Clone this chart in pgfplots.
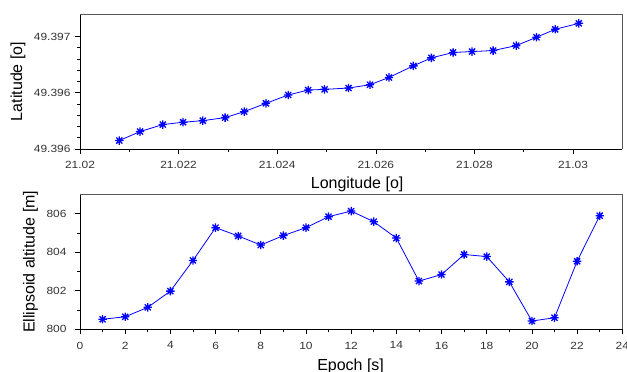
\documentclass[border=0pt]{standalone}
\usepackage{pgfplots}
\pgfplotsset{compat=1.18}
\usepackage{pgfplotstable}
\usepackage{fontspec}
\setmainfont{Liberation Sans}
\newfontfamily\tickfont[FakeStretch=1.15]{Liberation Sans}

\pgfdeclareplotmark{ast8}{%
 \pgfpathmoveto{\pgfqpoint{-\pgfplotmarksize}{0pt}}\pgfpathlineto{\pgfqpoint{\pgfplotmarksize}{0pt}}%
 \pgfpathmoveto{\pgfqpoint{0pt}{-\pgfplotmarksize}}\pgfpathlineto{\pgfqpoint{0pt}{\pgfplotmarksize}}%
 \pgfpathmoveto{\pgfqpoint{-0.72\pgfplotmarksize}{-0.72\pgfplotmarksize}}\pgfpathlineto{\pgfqpoint{0.72\pgfplotmarksize}{0.72\pgfplotmarksize}}%
 \pgfpathmoveto{\pgfqpoint{-0.72\pgfplotmarksize}{0.72\pgfplotmarksize}}\pgfpathlineto{\pgfqpoint{0.72\pgfplotmarksize}{-0.72\pgfplotmarksize}}%
 \pgfusepathqstroke}

% Track: dlon = (longitude - 21.02) in units of 0.001 deg,
%        dlat = (latitude - 49.396) in units of 0.0001 deg
\pgfplotstableread{
dlon   dlat
0.798  -4.25
1.218  -3.45
1.679  -2.83
2.091  -2.62
2.491  -2.48
2.944  -2.21
3.330  -1.68
3.771  -0.94
4.223  -0.20
4.629   0.24
4.961   0.30
5.448   0.42
5.882   0.71
6.268   1.36
6.761   2.39
7.127   3.10
7.568   3.58
7.953   3.66
8.380   3.75
8.847   4.19
9.259   4.93
9.639   5.64
10.118  6.17
}\track

\pgfplotstableread{
epoch alt
1  800.52
2  800.65
3  801.14
4  801.98
5  803.57
6  805.27
7  804.84
8  804.37
9  804.86
10 805.27
11 805.84
12 806.13
13 805.58
14 804.73
15 802.50
16 802.84
17 803.88
18 803.77
19 802.46
20 800.43
21 800.60
22 803.53
23 805.89
}\altitude

\pgfplotsset{
 myax/.style={
  scale only axis, width=542.3pt, height=135pt,
  axis x line*=bottom, axis y line*=left,
  axis line style={black, line width=0.8pt},
  tick align=outside,
  tick style={black, line width=0.6pt},
  major tick length=5pt, minor tick length=3pt,
  ticklabel style={font=\tickfont\fontsize{10.4}{12}\selectfont, text=black!80},
  xticklabel style={yshift=-4pt},
  label style={font=\fontsize{16}{18}\selectfont, text=black},
  /pgf/number format/assume math mode=true,
  clip=false,
  after end axis/.code={\draw[black!65, line width=0.8pt] (rel axis cs:0,1) -- (rel axis cs:1,1) -- (rel axis cs:1,0);},
 },
 myplot/.style={blue, line width=0.8pt, mark=ast8, mark size=4.2pt, mark options={line width=1.3pt}},
}

\begin{document}
\begin{tikzpicture}
\useasboundingbox (0,0) rectangle (627pt,-372pt);
\begin{axis}[myax,
  at={(80pt,-149pt)}, anchor=south west,
  xmin=0, xmax=11, ymin=-5, ymax=7,
  xtick={0,2,4,6,8,10},
  xticklabels={21.02,21.022,21.024,21.026,21.028,21.03},
  minor x tick num=1,
  ytick={-5,0,5},
  yticklabels={49.396,49.396,49.397},
  yticklabel style={xshift=-1pt},
  minor y tick num=4,
  xlabel={Longitude [o]},
  ylabel={Latitude [o]},
  xlabel style={at={(axis description cs:0.511,-0.291)}, anchor=base},
  ylabel style={at={(axis description cs:-0.1143,0.5)}, anchor=center},
]
\addplot[myplot] table[x=dlon, y=dlat] {\track};
\end{axis}
\begin{axis}[myax,
  at={(80pt,-329.3pt)}, anchor=south west,
  xmin=0, xmax=24, ymin=800, ymax=807,
  xtick={0,2,...,24},
  minor x tick num=1,
  ytick={800,802,804,806},
  yticklabel style={xshift=-5pt},
  minor y tick num=1,
  xlabel={Epoch [s]},
  ylabel={Ellipsoid altitude [m]},
  xlabel style={at={(axis description cs:0.499,-0.3015)}, anchor=base},
  ylabel style={at={(axis description cs:-0.0913,0.5)}, anchor=center},
]
\addplot[myplot] table[x=epoch, y=alt] {\altitude};
\end{axis}
\end{tikzpicture}
\end{document}
